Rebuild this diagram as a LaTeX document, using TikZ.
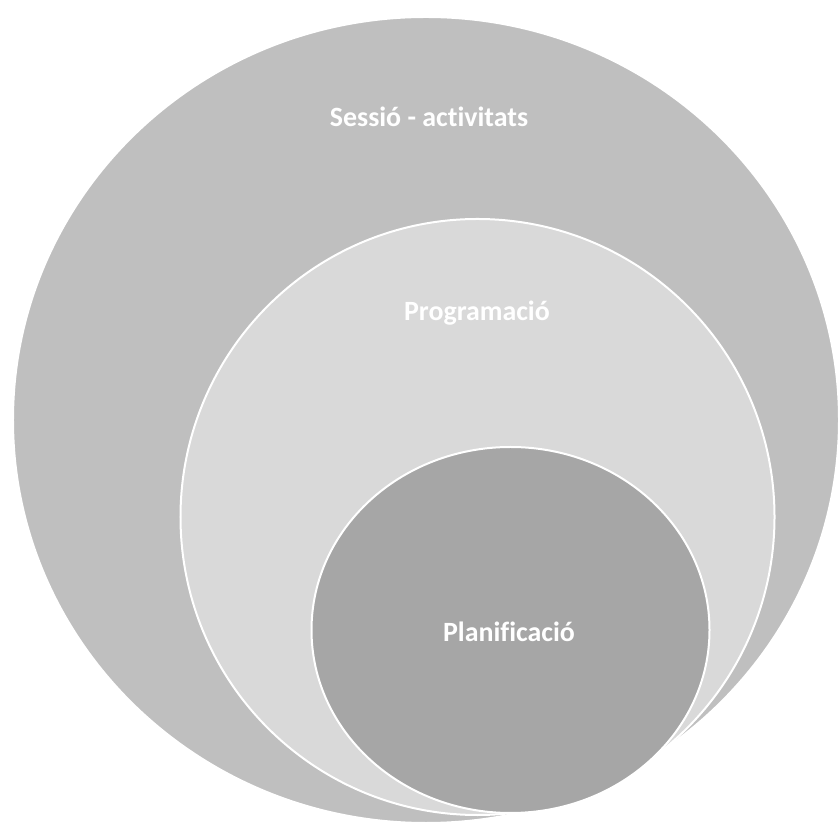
\documentclass[tikz,border=0pt]{standalone}
\usepackage{fontspec}
\setmainfont[Ligatures={NoCommon,NoDiscretionary,NoContextual}]{Carlito}
\usetikzlibrary{shapes.geometric}
\definecolor{outerfill}{HTML}{BFBFBF}
\definecolor{midfill}{HTML}{D9D9D9}
\definecolor{innerfill}{HTML}{A6A6A6}
\tikzset{
  ring/.style={ellipse, draw=white, line width=2bp, inner sep=0pt, outer sep=0pt},
  lbl/.style={text=white, font=\fontsize{28}{33}\selectfont\bfseries, inner sep=0pt}
}
\begin{document}
\begin{tikzpicture}[x=1bp,y=1bp]
\useasboundingbox (0,0) rectangle (839,825);
\node[ring, fill=outerfill, minimum width=826bp, minimum height=806bp] (outer) at (426,405) {};
\node[ring, fill=midfill, minimum width=594bp, minimum height=596bp] (mid) at (477.5,308) {};
\node[ring, fill=innerfill, minimum width=398bp, minimum height=366bp] (inner) at (510.5,195) {};
\node[lbl] (t1) at (429,708) {Sessió - activitats};
\node[lbl] (t2) at (477,512) {Programació};
\node[lbl] (t3) at (509,193) {Planificació};
\end{tikzpicture}
\end{document}
